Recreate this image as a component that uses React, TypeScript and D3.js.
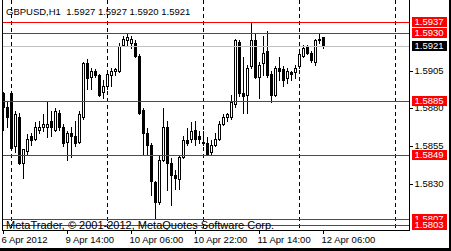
import React from "react";
import * as d3 from "d3";

const symbol = "GBPUSD";
const period = "H1";

// Hourly OHLC bars, oldest first
const opens = [
  1.5890, 1.5881, 1.5890, 1.5855, 1.5874, 1.5844, 1.5852, 1.5862, 1.5860, 1.5866,
  1.5868, 1.5868, 1.5872, 1.5866, 1.5877, 1.5868, 1.5858, 1.5864, 1.5862, 1.5858,
  1.5874, 1.5910, 1.5901, 1.5905, 1.5902, 1.5891, 1.5895, 1.5902, 1.5905, 1.5905,
  1.5922, 1.5925, 1.5923, 1.5923, 1.5915, 1.5879, 1.5864, 1.5856, 1.5831, 1.5818,
  1.5846, 1.5868, 1.5844, 1.5836, 1.5833, 1.5848, 1.5859, 1.5860, 1.5866, 1.5862,
  1.5858, 1.5857, 1.5851, 1.5856, 1.5860, 1.5870, 1.5874, 1.5874, 1.5883, 1.5924,
  1.5890, 1.5889, 1.5908, 1.5925, 1.5901, 1.5910, 1.5918, 1.5903, 1.5889, 1.5907,
  1.5906, 1.5900, 1.5904, 1.5904, 1.5908, 1.5915, 1.5921, 1.5917, 1.5911, 1.5925,
  1.5927,
];
const highs = [
  1.5891, 1.5884, 1.5891, 1.5878, 1.5877, 1.5853, 1.5863, 1.5864, 1.5871, 1.5872,
  1.5876, 1.5884, 1.5878, 1.5880, 1.5879, 1.5870, 1.5865, 1.5868, 1.5872, 1.5878,
  1.5911, 1.5913, 1.5907, 1.5906, 1.5903, 1.5899, 1.5904, 1.5907, 1.5907, 1.5923,
  1.5928, 1.5929, 1.5928, 1.5925, 1.5916, 1.5880, 1.5867, 1.5857, 1.5832, 1.5849,
  1.5880, 1.5872, 1.5847, 1.5839, 1.5849, 1.5862, 1.5867, 1.5871, 1.5872, 1.5865,
  1.5865, 1.5861, 1.5859, 1.5864, 1.5872, 1.5876, 1.5877, 1.5889, 1.5926, 1.5925,
  1.5914, 1.5909, 1.5937, 1.5929, 1.5911, 1.5928, 1.5931, 1.5905, 1.5908, 1.5914,
  1.5908, 1.5907, 1.5905, 1.5909, 1.5917, 1.5922, 1.5922, 1.5918, 1.5926, 1.5929,
  1.5927,
];
const lows = [
  1.5866, 1.5868, 1.5853, 1.5851, 1.5843, 1.5834, 1.5850, 1.5856, 1.5859, 1.5864,
  1.5865, 1.5861, 1.5862, 1.5865, 1.5866, 1.5855, 1.5846, 1.5848, 1.5855, 1.5857,
  1.5873, 1.5893, 1.5893, 1.5901, 1.5888, 1.5887, 1.5893, 1.5895, 1.5902, 1.5904,
  1.5921, 1.5922, 1.5920, 1.5914, 1.5876, 1.5850, 1.5850, 1.5823, 1.5807, 1.5817,
  1.5845, 1.5826, 1.5816, 1.5827, 1.5827, 1.5847, 1.5856, 1.5858, 1.5856, 1.5857,
  1.5856, 1.5849, 1.5849, 1.5855, 1.5859, 1.5869, 1.5872, 1.5873, 1.5881, 1.5888,
  1.5877, 1.5877, 1.5907, 1.5900, 1.5887, 1.5902, 1.5901, 1.5884, 1.5888, 1.5899,
  1.5895, 1.5897, 1.5899, 1.5900, 1.5907, 1.5914, 1.5916, 1.5911, 1.5909, 1.5923,
  1.5920,
];
const closes = [
  1.5881, 1.5874, 1.5854, 1.5876, 1.5844, 1.5853, 1.5860, 1.5859, 1.5868, 1.5868,
  1.5870, 1.5870, 1.5868, 1.5878, 1.5868, 1.5857, 1.5864, 1.5862, 1.5857, 1.5876,
  1.5910, 1.5900, 1.5905, 1.5902, 1.5889, 1.5895, 1.5903, 1.5905, 1.5906, 1.5921,
  1.5926, 1.5927, 1.5926, 1.5915, 1.5877, 1.5864, 1.5856, 1.5832, 1.5818, 1.5846,
  1.5868, 1.5844, 1.5836, 1.5834, 1.5848, 1.5859, 1.5857, 1.5865, 1.5860, 1.5860,
  1.5857, 1.5850, 1.5856, 1.5860, 1.5870, 1.5874, 1.5876, 1.5884, 1.5925, 1.5890,
  1.5888, 1.5907, 1.5925, 1.5901, 1.5909, 1.5917, 1.5902, 1.5889, 1.5907, 1.5905,
  1.5899, 1.5905, 1.5903, 1.5907, 1.5916, 1.5920, 1.5917, 1.5912, 1.5925, 1.5926,
  1.5921,
];

// Horizontal price levels
const levelLines = [1.5937, 1.593, 1.5885, 1.5849, 1.5807, 1.5803];

// Price scale and time scale labels
const priceTicks = [1.5905, 1.588, 1.5855, 1.583];
const timeLabels = ["6 Apr 2012", "9 Apr 14:00", "10 Apr 06:00", "10 Apr 22:00", "11 Apr 14:00", "12 Apr 06:00"];
const timeLabelBars = [0, 16, 32, 48, 64, 80];
// First bar of each trading day
const daySeparatorBars = [2, 26, 50, 74, 98];

const copyright = "MetaTrader, \u00a9 2001-2012, MetaQuotes Software Corp.";

const W = 451;
const H = 251;
const frame = { left: 2, right: 409, top: 0, bottom: 230 };
const FONT = "'Liberation Sans', Arial, sans-serif";

export default function App() {
  const x = d3.scaleLinear().domain([0, 100]).range([3, 403]);
  const y = d3.scaleLinear().domain([1.58, 1.595]).range([229.3, 2.66]);
  const px = (i: number) => Math.round(x(i));
  const py = (p: number) => Math.round(y(p));

  const last = closes.length - 1;
  const bid = closes[last];
  const fmt = (v: number) => v.toFixed(4);
  const title = `${symbol},${period}  ${fmt(opens[last])} ${fmt(highs[last])} ${fmt(lows[last])} ${fmt(closes[last])}`;

  return (
    <svg
      width={W}
      height={H}
      viewBox={`0 0 ${W} ${H}`}
      style={{ position: "absolute", left: 0, top: 0, background: "#fff" }}
      fontFamily={FONT}
      fontSize={9.5}
    >
      <rect x={0} y={0} width={W} height={H} fill="#fff" />

      {/* day separators */}
      {daySeparatorBars.map((b) => (
        <line
          key={`sep${b}`}
          x1={px(b) + 0.5}
          x2={px(b) + 0.5}
          y1={frame.top}
          y2={frame.bottom}
          stroke="#000"
          strokeDasharray="4,3"
        />
      ))}

      {/* candles */}
      {opens.map((o, i) => {
        const c = closes[i];
        const cx = px(i);
        const yH = py(highs[i]);
        const yL = py(lows[i]);
        const yTop = py(Math.max(o, c));
        const yBot = py(Math.min(o, c));
        const bull = c >= o;
        return (
          <g key={`c${i}`}>
            <line x1={cx + 0.5} x2={cx + 0.5} y1={yH} y2={yL + 1} stroke="#000" />
            {yBot > yTop ? (
              <rect
                x={cx - 0.5}
                y={yTop + 0.5}
                width={2}
                height={yBot - yTop}
                fill={bull ? "#fff" : "#000"}
                stroke="#000"
              />
            ) : (
              <line x1={cx - 1} x2={cx + 2} y1={yTop + 0.5} y2={yTop + 0.5} stroke="#000" />
            )}
          </g>
        );
      })}

      {/* bid line */}
      <line
        x1={frame.left + 1}
        x2={frame.right}
        y1={py(bid) + 0.5}
        y2={py(bid) + 0.5}
        stroke="#c0c0c0"
      />

      {/* price levels */}
      {levelLines.map((p) => (
        <line
          key={`lv${p}`}
          x1={frame.left + 1}
          x2={frame.right}
          y1={py(p) + 0.5}
          y2={py(p) + 0.5}
          stroke="#ff0000"
        />
      ))}

      {/* frame */}
      <line x1={frame.left + 0.5} x2={frame.left + 0.5} y1={frame.top} y2={frame.bottom + 1} stroke="#000" />
      <line x1={frame.right + 0.5} x2={frame.right + 0.5} y1={frame.top} y2={frame.bottom + 1} stroke="#000" />
      <line x1={frame.left} x2={frame.right + 1} y1={frame.bottom + 0.5} y2={frame.bottom + 0.5} stroke="#000" />

      {/* price scale */}
      {priceTicks.map((t) => (
        <g key={`pt${t}`}>
          <line x1={frame.right + 1} x2={frame.right + 4} y1={py(t) + 0.5} y2={py(t) + 0.5} stroke="#000" />
          <text x={414.5} y={py(t) + 3} fill="#000">
            {fmt(t)}
          </text>
        </g>
      ))}

      {/* level labels */}
      {levelLines.map((p) => (
        <g key={`lb${p}`}>
          <rect x={412} y={py(p) - 5} width={35} height={10} fill="#ff0000" />
          <text x={414.5} y={py(p) + 3} fill="#fff">
            {fmt(p)}
          </text>
        </g>
      ))}
      <rect x={412} y={py(bid) - 5} width={35} height={10} fill="#000" />
      <text x={414.5} y={py(bid) + 3} fill="#fff">
        {fmt(bid)}
      </text>

      {/* time scale */}
      {timeLabelBars.map((b, k) => (
        <g key={`tl${b}`}>
          <line x1={px(b) + 0.5} x2={px(b) + 0.5} y1={frame.bottom + 1} y2={frame.bottom + 4} stroke="#000" />
          <text x={px(b) - 1.5} y={243} fill="#000">
            {timeLabels[k]}
          </text>
        </g>
      ))}

      {/* title and copyright */}
      <text x={6} y={15} fill="#000" style={{ whiteSpace: "pre" }}>
        {title}
      </text>
      <text x={6} y={229} fill="#000" fontSize={11}>
        {copyright}
      </text>

      {/* window edge */}
      <rect x={W - 2} y={0} width={2} height={H} fill="#000" />
      <rect x={0} y={H - 3} width={W} height={3} fill="#000" />
    </svg>
  );
}
